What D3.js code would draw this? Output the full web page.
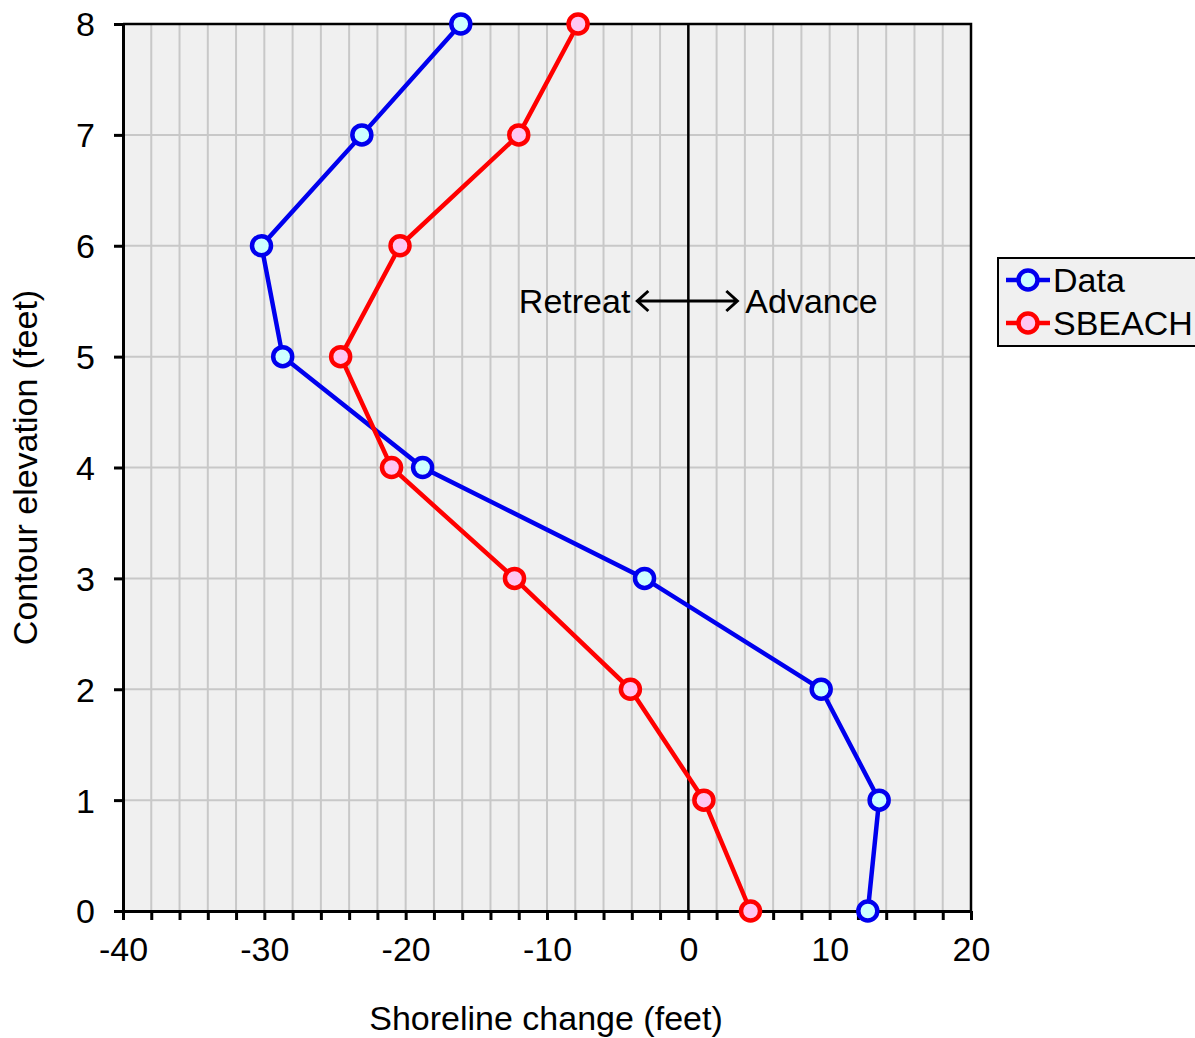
<!DOCTYPE html>
<html>
<head>
<meta charset="utf-8">
<script src="https://cdn.jsdelivr.net/npm/d3@7"></script>
<style>
  body { margin: 0; background: #fff; }
  svg text { font-family: "Liberation Sans", Arial, sans-serif; fill: #000; }
</style>
</head>
<body>
<svg id="chart" width="1195" height="1038"></svg>
<script>
// contour elevations (feet)
const elevations = [8, 7, 6, 5, 4, 3, 2, 1, 0]
// shoreline change (feet) per elevation
const dataValues = [-16.1, -23.1, -30.2, -28.7, -18.8, -3.1, 9.4, 13.5, 12.7]
const sbeachValues = [-7.8, -12.0, -20.4, -24.6, -21.0, -12.3, -4.1, 1.1, 4.4]

const xTicks = [-40, -30, -20, -10, 0, 10, 20]
const yTicks = [0, 1, 2, 3, 4, 5, 6, 7, 8]

const series = [
    {name: 'Data', values: dataValues, stroke: '#0000ee', fill: '#ccffff'},
    {name: 'SBEACH', values: sbeachValues, stroke: '#ff0000', fill: '#ffc6f2'}
]

const fontSize = 34

const margin = {left: 123, top: 24, right: 1195 - 971, bottom: 1038 - 911}
const width = 1195 - margin.left - margin.right
const height = 1038 - margin.top - margin.bottom

const svg = d3.select('#chart')
const g = svg.append('g').attr('transform', `translate(${margin.left},${margin.top})`)

const x = d3.scaleLinear().domain([-40, 20]).range([0, width])
const y = d3.scaleLinear().domain([0, 8]).range([height, 0])

// plot background
g.append('rect')
    .attr('width', width).attr('height', height)
    .attr('fill', '#f0f0f0')

// grid lines
g.append('g').selectAll('line')
    .data(d3.range(-38, 20, 2))
    .enter().append('line')
    .attr('x1', d => x(d)).attr('x2', d => x(d))
    .attr('y1', 0).attr('y2', height)
    .attr('stroke', '#c8c8c8').attr('stroke-width', 2)

g.append('g').selectAll('line')
    .data(yTicks.slice(1, -1))
    .enter().append('line')
    .attr('y1', d => y(d)).attr('y2', d => y(d))
    .attr('x1', 0).attr('x2', width)
    .attr('stroke', '#c8c8c8').attr('stroke-width', 2)

// zero line
g.append('line')
    .attr('x1', x(0)).attr('x2', x(0))
    .attr('y1', 0).attr('y2', height)
    .attr('stroke', '#000').attr('stroke-width', 2.5)

// frame top / right
g.append('path')
    .attr('d', `M0,0H${width}V${height}`)
    .attr('fill', 'none').attr('stroke', '#000').attr('stroke-width', 2.5)

// x axis
const xAxis = g.append('g')
    .attr('transform', `translate(0,${height})`)
    .call(d3.axisBottom(x).tickValues(d3.range(-40, 21, 2)).tickSize(9).tickSizeOuter(0))
xAxis.attr('font-size', fontSize).attr('font-family', null)
xAxis.select('.domain').attr('stroke-width', 3)
xAxis.selectAll('.tick line').attr('stroke-width', 3)
xAxis.selectAll('.tick text')
    .attr('y', 26).attr('dy', '0.71em')
    .text(d => xTicks.includes(d) ? (d < 0 ? '-' + Math.abs(d) : d) : '')

// y axis
const yAxis = g.append('g')
    .call(d3.axisLeft(y).tickValues(yTicks).tickSize(9).tickSizeOuter(0))
yAxis.attr('font-size', fontSize).attr('font-family', null)
yAxis.select('.domain').attr('stroke-width', 3)
yAxis.selectAll('.tick line').attr('stroke-width', 3)
yAxis.selectAll('.tick text').attr('x', -28).attr('dy', '0.35em')

// axis titles
svg.append('text')
    .attr('x', margin.left + width / 2 - 1).attr('y', 1030)
    .attr('text-anchor', 'middle').attr('font-size', fontSize)
    .text('Shoreline change (feet)')

svg.append('text')
    .attr('transform', `translate(37,${margin.top + height / 2}) rotate(-90)`)
    .attr('text-anchor', 'middle').attr('font-size', fontSize)
    .text('Contour elevation (feet)')

// retreat / advance annotation
const ay = 301 - margin.top
g.append('text')
    .attr('x', x(0) - 58).attr('y', ay + 12)
    .attr('text-anchor', 'end').attr('font-size', fontSize)
    .text('Retreat')
g.append('text')
    .attr('x', x(0) + 57).attr('y', ay + 12)
    .attr('text-anchor', 'start').attr('font-size', fontSize)
    .text('Advance')
g.append('path')
    .attr('d', `M${x(0) - 51},${ay}H${x(0) + 49}M${x(0) - 40},${ay - 10}L${x(0) - 51},${ay}L${x(0) - 40},${ay + 10}M${x(0) + 38},${ay - 10}L${x(0) + 49},${ay}L${x(0) + 38},${ay + 10}`)
    .attr('fill', 'none').attr('stroke', '#000').attr('stroke-width', 3)

// series
const line = d3.line()
    .x(d => x(d.v))
    .y(d => y(d.e))

series.forEach(s => {
    const pts = s.values.map((v, i) => ({v: v, e: elevations[i]}))
    g.append('path')
        .datum(pts)
        .attr('d', line)
        .attr('fill', 'none')
        .attr('stroke', s.stroke)
        .attr('stroke-width', 4.5)
    g.append('g').selectAll('circle')
        .data(pts)
        .enter().append('circle')
        .attr('cx', d => x(d.v))
        .attr('cy', d => y(d.e))
        .attr('r', 9.5)
        .attr('fill', s.fill)
        .attr('stroke', s.stroke)
        .attr('stroke-width', 4.5)
})

// legend
const legend = svg.append('g').attr('transform', 'translate(998,258)')
legend.append('rect')
    .attr('width', 200).attr('height', 88)
    .attr('fill', '#f0f0f0').attr('stroke', '#000').attr('stroke-width', 2)

const legendItems = legend.selectAll('.legend-item')
    .data(series)
    .enter().append('g')
    .attr('class', 'legend-item')
    .attr('transform', (d, i) => `translate(0,${22 + i * 43})`)

legendItems.append('line')
    .attr('x1', 8).attr('x2', 52)
    .attr('stroke', d => d.stroke).attr('stroke-width', 4.5)
legendItems.append('circle')
    .attr('cx', 30).attr('r', 9.5)
    .attr('fill', d => d.fill).attr('stroke', d => d.stroke).attr('stroke-width', 4.5)
legendItems.append('text')
    .attr('x', 55).attr('dy', '0.36em')
    .attr('font-size', fontSize)
    .text(d => d.name)
</script>
</body>
</html>
